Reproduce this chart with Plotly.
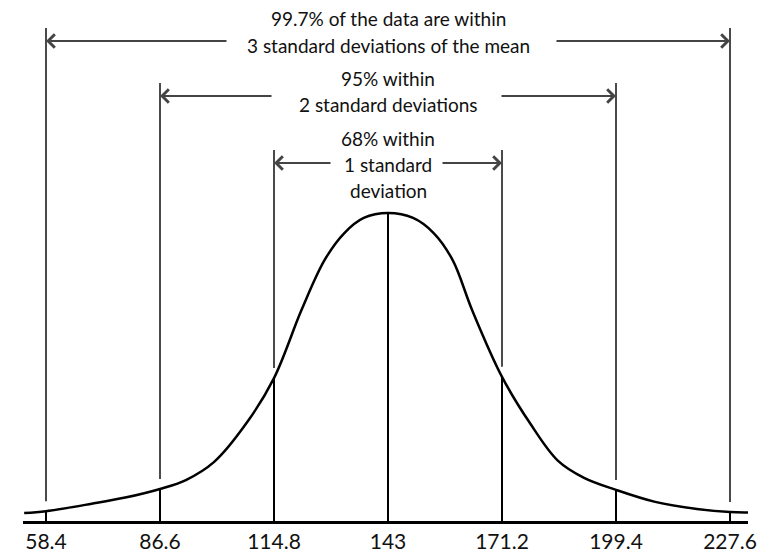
import numpy as np
import plotly.graph_objects as go

# ---- data ----
tick_values = [58.4, 86.6, 114.8, 143.0, 171.2, 199.4, 227.6]
tick_labels = ["58.4", "86.6", "114.8", "143", "171.2", "199.4", "227.6"]

curve_x = [53.0, 58.4, 69.7, 78.0, 86.6, 93.0, 100.0, 108.0, 114.8, 121.6, 127.3,
           132.2, 137.0, 143.0, 149.2, 154.3, 159.0, 163.8, 171.2, 178.1, 185.0,
           191.5, 199.4, 209.1, 219.4, 227.6, 232.1]
curve_y = [0.026, 0.032, 0.056, 0.076, 0.104, 0.133, 0.192, 0.318, 0.464, 0.685, 0.847,
           0.935, 0.984, 1.0, 0.984, 0.935, 0.847, 0.685, 0.468, 0.318, 0.196,
           0.140, 0.101, 0.062, 0.039, 0.029, 0.028]

level_texts = [
    ["99.7% of the data are within", "3 standard deviations of the mean"],
    ["95% within", "2 standard deviations"],
    ["68% within", "1 standard", "deviation"],
]

# ---- layout helpers (pixel -> data) ----
W, H = 769, 558
AXIS_PX = 521          # y pixel of the axis line
PEAK_PX = 213          # y pixel of the curve peak
unit = AXIS_PX - PEAK_PX
def ypx(p):
    return (AXIS_PX - p) / unit

mean = tick_values[3]
pxu = (730 - 46) / (tick_values[-1] - tick_values[0])
def xpx(p):
    return mean + (p - 388) / pxu

left_px, right_px = 23, 748
xr = [xpx(left_px), xpx(right_px)]

fig = go.Figure()

# bell curve
fig.add_trace(go.Scatter(x=curve_x, y=curve_y, mode="lines",
                         line=dict(color="black", width=2.5, shape="spline", smoothing=1.0),
                         hoverinfo="skip", showlegend=False))

# vertical lines: black part under the curve, grey guide above
h_at = np.interp(tick_values, curve_x, curve_y)
lx, ly, gx, gy = [], [], [], []
top_px = {3: 28, 2: 83, 1: 150}
gap = 10 / unit
for i, v in enumerate(tick_values):
    k = abs(i - 3)
    lx += [v, v, None]
    ly += [0, float(h_at[i]) if k else 1.0, None]
    if k:
        gx += [v, v, None]
        gy += [float(h_at[i]) + gap, ypx(top_px[k]), None]
fig.add_trace(go.Scatter(x=lx, y=ly, mode="lines", line=dict(color="black", width=2),
                         hoverinfo="skip", showlegend=False))
fig.add_trace(go.Scatter(x=gx, y=gy, mode="lines", line=dict(color="#4a4a4a", width=2),
                         hoverinfo="skip", showlegend=False))

annotations = []
# arrows
arrow_px = {3: 41, 2: 96, 1: 163}
tail_px = {3: (228, 555), 2: (273, 500), 1: (332, 441)}
for k in (3, 2, 1):
    y = ypx(arrow_px[k])
    lt, rt = tail_px[k]
    for head, tail in ((tick_values[3 - k], xpx(lt)), (tick_values[3 + k], xpx(rt))):
        annotations.append(dict(x=head, y=y, ax=tail, ay=y, xref="x", yref="y",
                                axref="x", ayref="y", text="", showarrow=True,
                                arrowhead=4, arrowsize=1.3, arrowwidth=2,
                                arrowcolor="#444444", standoff=0, startstandoff=0))

# texts
text_px = {3: [18, 45], 2: [78, 104], 1: [138, 164, 190]}
for k, lines in zip((3, 2, 1), level_texts):
    for t, p in zip(lines, text_px[k]):
        annotations.append(dict(x=mean, y=ypx(p), xref="x", yref="y", text=t,
                                showarrow=False, xanchor="center", yanchor="middle",
                                font=dict(family="Lato", size=19, color="#111111")))

fig.update_layout(
    width=W, height=H,
    margin=dict(l=left_px, r=W - right_px, t=0, b=H - AXIS_PX),
    paper_bgcolor="white", plot_bgcolor="white",
    showlegend=False,
    annotations=annotations,
    xaxis=dict(range=xr, showgrid=False, zeroline=False, showline=True,
               linecolor="black", linewidth=2.5, ticks="",
               tickvals=tick_values, ticktext=tick_labels,
               tickfont=dict(family="Lato", size=21, color="#111111"),
               fixedrange=True),
    yaxis=dict(range=[0, ypx(0)], visible=False, fixedrange=True),
)

fig.write_html("out.html")
